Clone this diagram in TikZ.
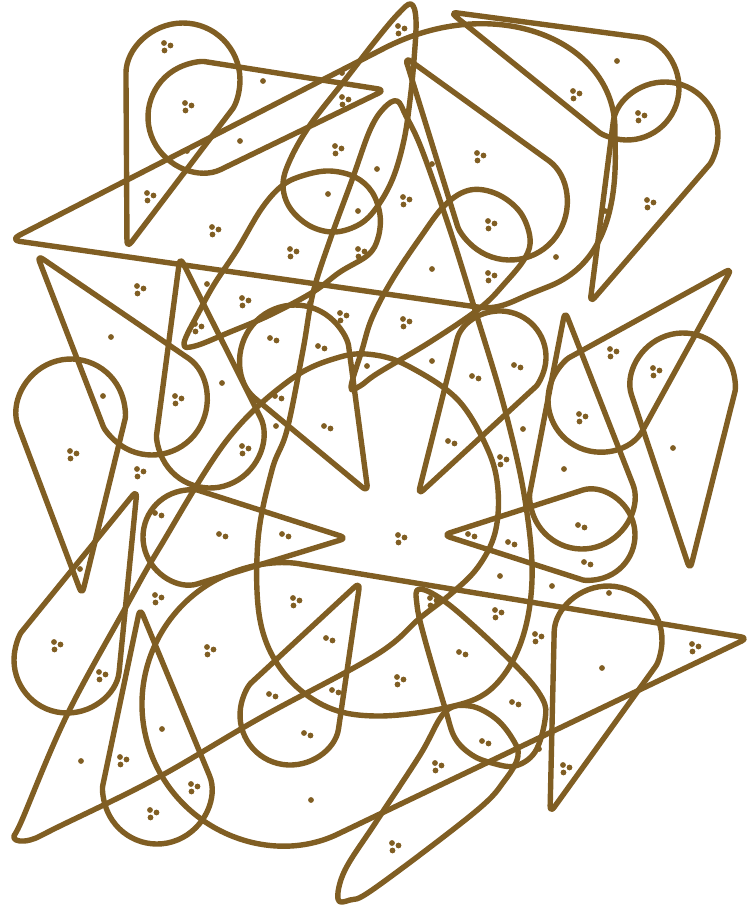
\documentclass[tikz,border=0pt]{standalone}
\usepackage{xcolor}
\definecolor{ink}{RGB}{128,94,35}
\tikzset{
  dropst/.style={draw=ink, line width=5.4pt, line join=round, rounded corners=7pt},
  smst/.style={draw=ink, line width=5.4pt, line join=round},
  dotst/.style={fill=ink}
}
\newcommand\drop[5]{%
  \pgfmathsetmacro\tdD{veclen((#1)-(#3),(#2)-(#4))}%
  \pgfmathsetmacro\tdP{atan2((#2)-(#4),(#1)-(#3))}%
  \pgfmathsetmacro\tdA{acos((#5)/\tdD)}%
  \pgfmathsetmacro\tdS{\tdP+\tdA}%
  \pgfmathsetmacro\tdE{\tdP-\tdA+360}%
  \pgfmathsetmacro\tdX{(#3)+(#5)*cos(\tdS)}%
  \pgfmathsetmacro\tdY{(#4)+(#5)*sin(\tdS)}%
  \draw[dropst] (#1,#2) -- (\tdX,\tdY) arc[start angle=\tdS, end angle=\tdE, radius=#5] -- cycle;}
\newcommand\dA[2]{\fill[dotst] (#1,#2) circle[radius=2.9];}
\newcommand\dB[2]{\fill[dotst] (#1,#2) circle[radius=2.9] ({#1+6.5},{#2+2.5}) circle[radius=2.9];}
\newcommand\dC[2]{\fill[dotst] (#1,#2) circle[radius=2.9] ({#1+6.5},{#2+2.5}) circle[radius=2.9] ({#1+0.5},{#2+7.5}) circle[radius=2.9];}
\begin{document}
\begin{tikzpicture}[x=1pt,y=1pt,yscale=-1]
\useasboundingbox (0,0) rectangle (751,910);
% simple teardrops
\drop{127}{248}{183}{80}{57}
\drop{385}{90}{203}{117}{55}
\drop{590}{303}{665}{135}{53}
\drop{450}{12}{627}{88}{52}
\drop{405}{57}{510}{203}{57}
\drop{418}{495}{500}{357}{46}
\drop{565}{311}{582}{497}{52}
\drop{732}{268}{600}{400}{52}
\drop{690}{570}{683}{385}{52}
\drop{443}{535}{590}{535}{45}
\drop{550}{813}{608}{640}{54}
\drop{82}{595}{71}{413}{54}
\drop{37}{255}{152}{400}{55}
\drop{180}{257}{210}{435}{53}
\drop{137}{490}{67}{660}{53}
\drop{140}{608}{157}{790}{54}
\drop{748}{638}{283}{704}{141}
\drop{347}{538}{190}{537}{47}
\drop{360}{582}{290}{715}{50}
\drop{368}{492}{295}{360}{55}
% big wedge top
\draw[dropst, rounded corners=10pt] (10,240) -- (375,53) .. controls (495,-9) and (615,40) .. (615,140)
  .. controls (617,230) and (590,270) .. (540,290) .. controls (515,300) and (500,310) .. (470,306) -- cycle;
% irregular loops
\draw[smst] plot[smooth cycle, tension=0.6] coordinates {(14,838) (22,820) (67,715) (127,605) (160,547) (227,440) (290,380) (340,357) (375,355) (410,367) (458,400) (488,450) (498,490) (495,533) (478,567) (452,593) (420,618) (376,655) (260,718) (157,778) (60,826) (30,840)};
\draw[smst] plot[smooth cycle, tension=0.6] coordinates {(397,101) (406,116) (422,150) (450,230) (475,310) (505,410) (525,500) (532,580) (520,645) (490,690) (445,708) (376,716) (325,706) (283,672) (260,620) (258,540) (272,470) (287,430) (303,350) (313,293) (330,240) (352,180) (370,130) (384,108)};
\draw[smst] plot[smooth cycle, tension=0.6] coordinates {(184,343) (200,310) (215,283) (237,250) (262,208) (283,185) (305,175) (330,171) (355,177) (372,192) (380,215) (378,238) (368,255) (340,272) (313,292) (270,315) (230,332) (195,346)};
\draw[smst] plot[smooth cycle, tension=0.6] coordinates {(411,4) (416,20) (414,60) (410,100) (404,140) (393,178) (377,207) (360,224) (335,232) (310,226) (290,208) (283,185) (290,160) (310,125) (345,80) (376,40) (398,14)};
\draw[smst] plot[smooth cycle, tension=0.6] coordinates {(351,387) (362,350) (372,318) (392,280) (420,238) (445,205) (470,190) (497,194) (520,212) (530,238) (525,258) (505,283) (480,308) (430,342) (378,373) (360,386)};
\draw[smst] plot[smooth cycle, tension=0.6] coordinates {(420,589) (452,607) (515,665) (542,698) (545,720) (535,752) (515,766) (492,763) (472,755) (455,738) (445,708) (425,640) (417,605)};
\draw[smst] plot[smooth cycle, tension=0.6] coordinates {(338,899) (345,870) (376,822) (420,755) (445,712) (470,706) (495,718) (512,738) (518,756) (505,780) (475,812) (375,888) (350,900)};
% dots: triples
\dC{164}{43}\dC{185}{103}\dC{147}{193}\dC{212}{227}\dC{342}{97}\dC{335}{146}\dC{290}{249}\dC{358}{249}\dC{137}{286}\dC{242}{298}
\dC{398}{26}\dC{573}{91}\dC{638}{113}\dC{477}{153}\dC{403}{197}\dC{647}{200}\dC{488}{221}\dC{488}{273}
\dC{195}{324}\dC{340}{313}\dC{175}{396}\dC{242}{446}\dC{70}{451}\dC{137}{469}\dC{155}{595}\dC{293}{598}
\dC{403}{319}\dC{500}{457}\dC{610}{349}\dC{653}{368}\dC{579}{414}\dC{398}{535}\dC{430}{598}
\dC{495}{610}\dC{535}{634}\dC{397}{677}\dC{692}{644}\dC{435}{763}\dC{563}{765}\dC{392}{843}
\dC{54}{642}\dC{99}{672}\dC{207}{647}\dC{120}{757}\dC{191}{784}\dC{150}{810}
% doubles
\dB{270}{338}\dB{318}{346}\dB{275}{396}\dB{324}{426}\dB{155}{513}\dB{219}{534}\dB{282}{534}
\dB{472}{376}\dB{514}{365}\dB{448}{441}\dB{578}{525}\dB{468}{534}\dB{508}{542}\dB{584}{562}
\dB{459}{652}\dB{512}{702}\dB{482}{741}\dB{326}{638}\dB{269}{694}\dB{332}{690}\dB{304}{733}
% singles
\dA{263}{81}\dA{240}{141}\dA{187}{151}\dA{328}{194}\dA{358}{211}\dA{342}{73}\dA{207}{284}
\dA{407}{63}\dA{617}{61}\dA{611}{136}\dA{432}{164}\dA{377}{169}\dA{605}{211}\dA{556}{257}\dA{432}{269}
\dA{310}{303}\dA{367}{366}\dA{222}{383}\dA{276}{426}\dA{111}{337}\dA{103}{396}\dA{80}{569}
\dA{432}{361}\dA{523}{429}\dA{564}{469}\dA{673}{448}\dA{500}{576}\dA{552}{586}\dA{609}{593}\dA{450}{589}
\dA{602}{668}\dA{539}{749}\dA{162}{729}\dA{81}{761}\dA{311}{800}
\end{tikzpicture}
\end{document}
